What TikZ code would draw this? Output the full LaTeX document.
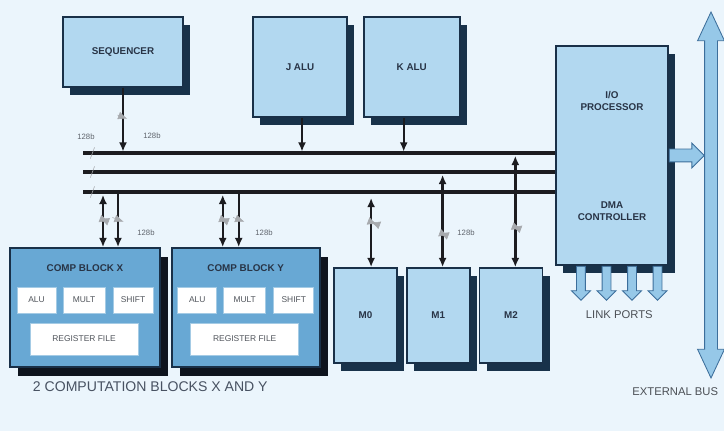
\documentclass[tikz,border=0pt]{standalone}
\usepackage{fontspec}
\setmainfont{Liberation Sans}
\usepackage{tikz}
\usepackage{xcolor}
\usetikzlibrary{positioning,arrows.meta,calc,shadows,shapes.arrows,decorations.markings}
\definecolor{dspbg}{RGB}{235,245,252}
\definecolor{dspfill}{RGB}{178,216,240}
\definecolor{dspcomp}{RGB}{104,168,212}
\definecolor{dspedge}{RGB}{25,48,72}
\definecolor{dspshadow}{RGB}{24,50,74}
\definecolor{dspdark}{RGB}{14,20,30}
\definecolor{dspline}{RGB}{28,28,32}
\definecolor{dsptext}{RGB}{40,52,70}
\definecolor{dspgray}{RGB}{95,100,108}
\definecolor{dsparrow}{RGB}{150,200,232}
\definecolor{dsparrowedge}{RGB}{60,110,155}
\tikzset{
  blockbase/.style={draw=dspedge, line width=1.2pt, align=center, font=\fontsize{7}{8}\selectfont\bfseries, text=dsptext},
  unit/.style={blockbase, fill=dspfill, general shadow={fill=dspshadow, shadow xshift=0.18cm, shadow yshift=-0.2cm}},
  compblock/.style={blockbase, fill=dspcomp, general shadow={fill=dspdark, shadow xshift=0.2cm, shadow yshift=-0.22cm}},
  unittext/.style={align=center, font=\fontsize{7}{8.5}\selectfont\bfseries, text=dsptext},
  subunit/.style={draw=dspcomp!60!white, line width=0.6pt, fill=white, minimum height=0.65cm, inner sep=1pt, font=\fontsize{6}{7}\selectfont, text=dspgray!85!black},
  busline/.style={line width=2.3pt, draw=dspline},
  link/.style={-{Latex[length=2.3mm,width=2mm]}, line width=1.7pt, draw=dspline},
  duplex/.style={{Latex[length=2.3mm,width=2mm]}-{Latex[length=2.3mm,width=2mm]}, line width=1.7pt, draw=dspline},
  widthmark/.style={postaction={decorate, decoration={markings, mark=at position #1 with {\draw[dspgray!55, line width=0.4pt] (-1.5pt,-4pt) -- (1.5pt,4pt);}}}},
  widthmark/.default=0.5,
  widthtag/.style={font=\fontsize{5.5}{6}\selectfont, text=dspgray},
  fatarrow/.style={fill=dsparrow, draw=dsparrowedge, line width=0.6pt},
  caption/.style={font=\fontsize{8}{9}\selectfont, text=dspgray!80!black}
}
\begin{document}
\begin{tikzpicture}[x=0.025cm, y=-0.025cm, node distance=0.2cm]
  \fill[dspbg] (0,0) rectangle (724,431);
  \useasboundingbox (0,0) rectangle (724,431);

  \node[unit, minimum width=3cm, minimum height=1.75cm] (seq) at (123,52) {SEQUENCER};
  \node[unit, minimum width=2.35cm, minimum height=2.5cm] (jalu) at (300,67) {J ALU};
  \node[unit, minimum width=2.4cm, minimum height=2.5cm, right=0.375cm of jalu] (kalu) {K ALU};
  \node[unit, minimum width=2.8cm, minimum height=5.475cm] (io) at (612,155.5) {};
  \node[unittext] (iop) at ([yshift=-1.4cm]io.north) {I/O\\PROCESSOR};
  \node[unittext] (dma) at ([yshift=-4.15cm]io.north) {DMA\\CONTROLLER};

  \node[compblock, minimum width=3.75cm, minimum height=2.975cm] (compx) at (85,307.5) {};
  \node[compblock, minimum width=3.7cm, minimum height=2.975cm, right=0.25cm of compx] (compy) {};
  \foreach \blk/\tag in {compx/X, compy/Y} {
    \node[unittext] (\blk-title) at ([yshift=-0.53cm]\blk.north) {COMP BLOCK \tag};
    \node[subunit, minimum width=0.975cm] (\blk-alu) at ($(\blk)+(-48.5,-7.5)$) {ALU};
    \node[subunit, minimum width=1.05cm] (\blk-mult) at ($(\blk)+(-1,-7.5)$) {MULT};
    \node[subunit, minimum width=1cm] (\blk-shift) at ($(\blk)+(48,-7.5)$) {SHIFT};
    \node[subunit, minimum width=2.7cm, minimum height=0.8cm] (\blk-reg) at ($(\blk)+(-1,31.5)$) {REGISTER FILE};
  }
  \node[caption, font=\fontsize{10}{11}\selectfont, text=dsptext!85, anchor=west] (compcap) at (28,387) {2 COMPUTATION BLOCKS X AND Y};

  \node[unit, minimum width=1.575cm, minimum height=2.375cm] (m0) at (365.5,315.5) {M0};
  \node[unit, minimum width=1.575cm, minimum height=2.375cm, right=of m0] (m1) {M1};
  \node[unit, minimum width=1.575cm, minimum height=2.375cm, right=of m1] (m2) {M2};

  \node[fatarrow, double arrow, rotate=90, minimum height=9.15cm, inner sep=0.15cm, double arrow head extend=0.175cm, double arrow tip angle=50] (extbus) at (711,195) {};
  \node[fatarrow, single arrow, anchor=tail, minimum height=0.875cm, inner sep=0.15cm, single arrow head extend=0.15cm] (iobus) at (io.east) {};
  \foreach \i in {0,...,3}
    \node[fatarrow, single arrow, rotate=-90, anchor=tail, minimum height=0.85cm, inner sep=0.1cm, single arrow head extend=0.13cm] (port\i) at ([xshift={(-0.775+\i*0.6375)*1cm}]io.south) {};
  \node[caption, below=0.12cm of port1.tip, xshift=0.32cm] (portcap) {LINK PORTS};
  \node[caption, anchor=east] (buscap) at (723,392) {EXTERNAL BUS};

  \coordinate (bus1) at (83,153);
  \coordinate (bus2) at (83,172);
  \coordinate (bus3) at (83,192);
  \foreach \b in {bus1,bus2,bus3}
    \draw[busline, widthmark=0.02] (\b) -- (\b -| io.west);

  \coordinate (jport) at ([xshift=0.05cm]jalu.south);
  \coordinate (kport) at ([xshift=-0.2cm]kalu.south);
  \coordinate (m0port) at ([xshift=0.14cm]m0.north);
  \coordinate (m1port) at ([xshift=0.11cm]m1.north);
  \coordinate (m2port) at ([xshift=0.11cm]m2.north);
  \coordinate (xdup) at ([xshift=0.45cm]compx.north);
  \coordinate (xin) at ([xshift=0.825cm]compx.north);
  \coordinate (ydup) at ([xshift=-0.575cm]compy.north);
  \coordinate (yin) at ([xshift=-0.175cm]compy.north);

  \draw[link, widthmark=0.45, shorten >=1pt] (seq) -- (seq |- bus1);
  \draw[link, shorten >=1pt] (jport) -- (jport |- bus1);
  \draw[link, shorten >=1pt] (kport) -- (kport |- bus1);
  \draw[duplex, widthmark=0.4, shorten <=0.15cm] (m0port |- bus3) -- (m0port);
  \draw[duplex, widthmark=0.65, shorten <=2pt] (m1port |- bus2) -- (m1port);
  \draw[duplex, widthmark=0.65, shorten <=2pt] (m2port |- bus1) -- (m2port);
  \draw[duplex, widthmark, shorten <=2pt] (xdup |- bus3) -- (xdup);
  \draw[link, widthmark] (xin |- bus3) -- (xin);
  \draw[duplex, widthmark, shorten <=2pt] (ydup |- bus3) -- (ydup);
  \draw[link, widthmark] (yin |- bus3) -- (yin);

  \node[widthtag] (w0) at (86,137) {128b};
  \node[widthtag] (w1) at (152,136) {128b};
  \node[widthtag] (w2) at (146,233) {128b};
  \node[widthtag] (w3) at (264,233) {128b};
  \node[widthtag] (w4) at (466,233) {128b};
\end{tikzpicture}
\end{document}
